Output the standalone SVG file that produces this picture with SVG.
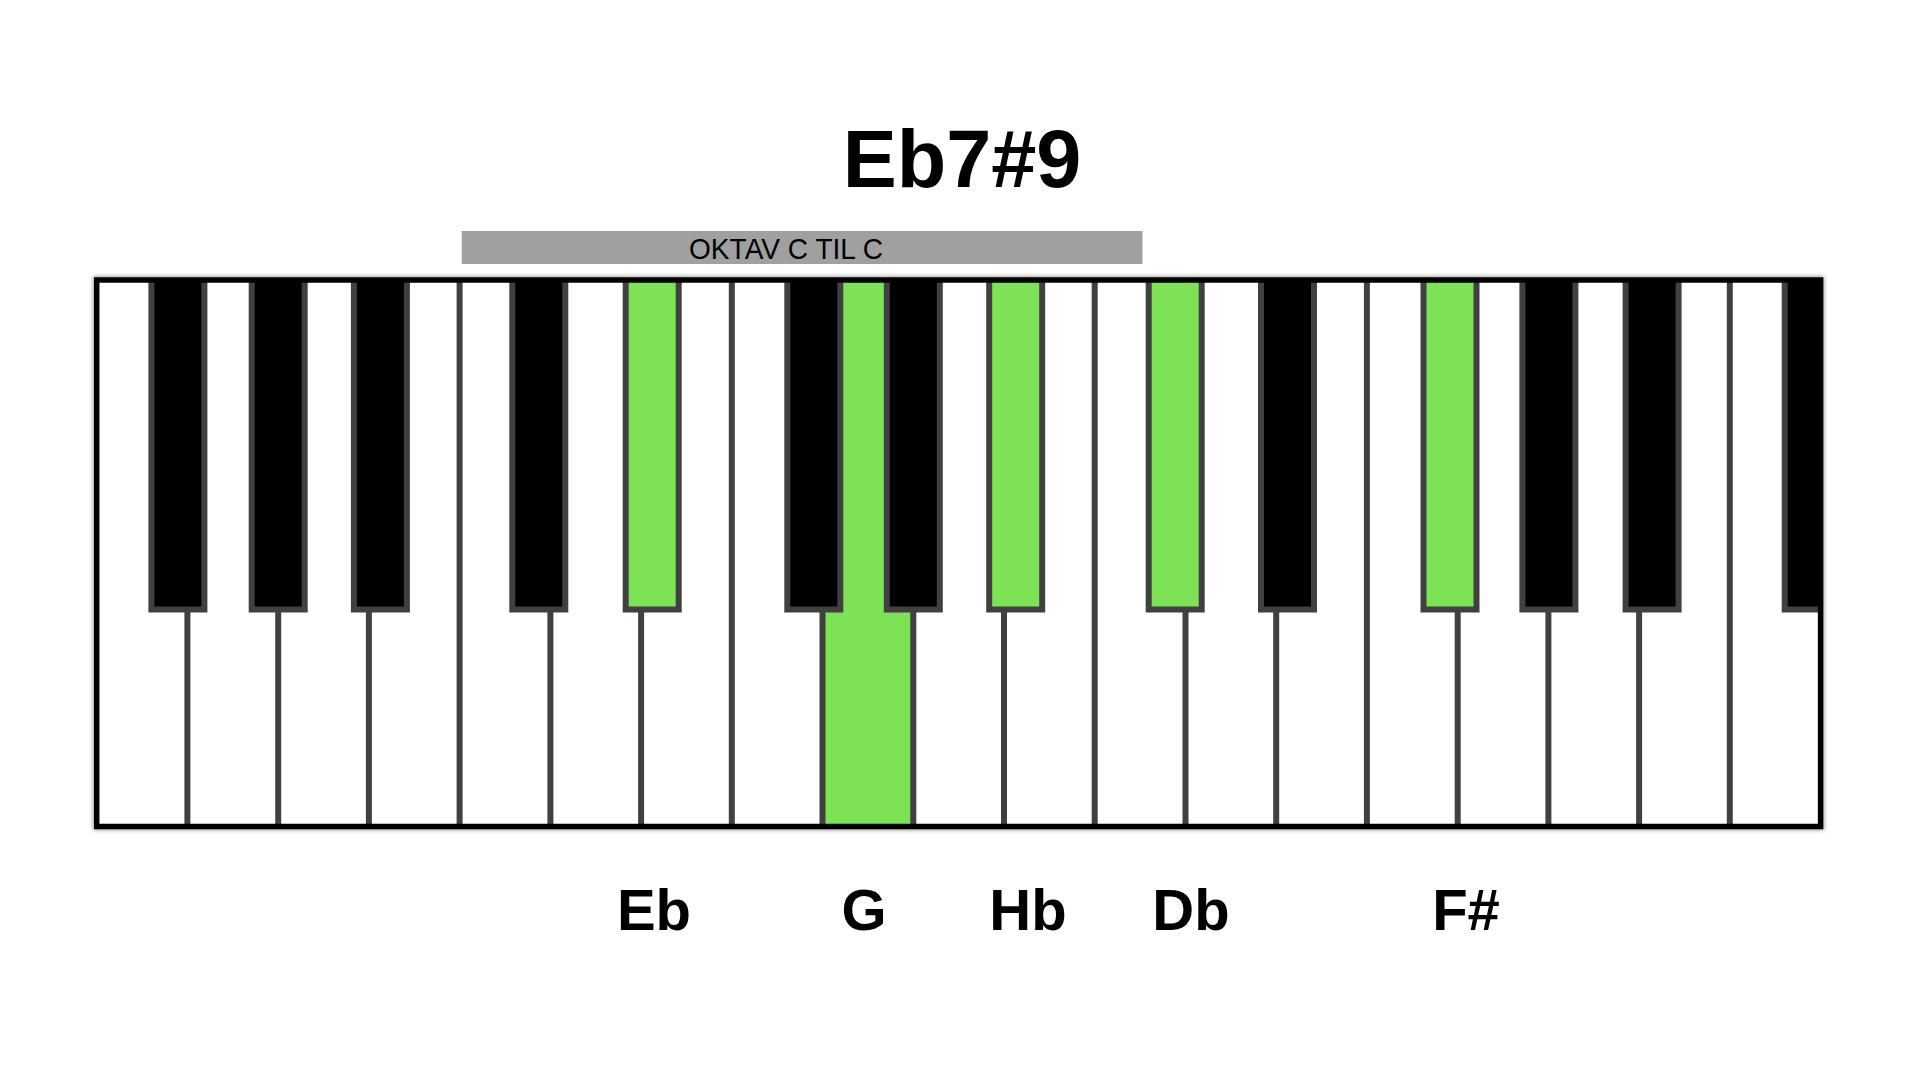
<svg xmlns="http://www.w3.org/2000/svg" width="1920" height="1080" viewBox="0 0 1920 1080">
<style>
.title{font-family:"Liberation Sans",Arial,sans-serif;font-weight:bold;font-size:81px;fill:#000}
.note{font-family:"Liberation Sans",Arial,sans-serif;font-weight:bold;font-size:58px;fill:#000}
.bartext{font-family:"Liberation Sans",Arial,sans-serif;font-size:30px;fill:#000}
.sep{stroke:#404040;stroke-width:6}
.bk{fill:#000;stroke:#404040;stroke-width:6}
.bk.on{fill:#7ee256}
.wk{fill:#fff}
.wk.on{fill:#7ee256}
</style>
<defs>
<clipPath id="kb"><rect x="96.7" y="280" width="1723.9" height="546.5"/></clipPath>
<filter id="sh" x="-5%" y="-5%" width="110%" height="110%"><feGaussianBlur stdDeviation="2"/></filter>
</defs>
<rect width="1920" height="1080" fill="#fff"/>
<text class="title" x="962" y="187" text-anchor="middle">Eb7#9</text>
<g id="octave-bar">
<rect x="461.7" y="231" width="680.8" height="33" fill="#a0a0a0"/>
<text class="bartext" x="786" y="259" text-anchor="middle" textLength="194" lengthAdjust="spacingAndGlyphs">OKTAV C TIL C</text>
</g>
<rect x="96.7" y="280" width="1723.9" height="546.5" fill="none" stroke="#999" stroke-width="7" filter="url(#sh)"/>
<g id="keyboard" clip-path="url(#kb)">
<rect class="wk" x="96.7" y="280" width="1723.9" height="546.5"/>
<rect id="key-G" class="wk on" x="822.5" y="280" width="90.8" height="546.5"/>
<g id="separators">
<line class="sep" x1="187.4" y1="280" x2="187.4" y2="827"/>
<line class="sep" x1="278.2" y1="280" x2="278.2" y2="827"/>
<line class="sep" x1="368.9" y1="280" x2="368.9" y2="827"/>
<line class="sep" x1="459.6" y1="280" x2="459.6" y2="827"/>
<line class="sep" x1="550.4" y1="280" x2="550.4" y2="827"/>
<line class="sep" x1="641.1" y1="280" x2="641.1" y2="827"/>
<line class="sep" x1="731.8" y1="280" x2="731.8" y2="827"/>
<line class="sep" x1="822.5" y1="280" x2="822.5" y2="827"/>
<line class="sep" x1="913.3" y1="280" x2="913.3" y2="827"/>
<line class="sep" x1="1004" y1="280" x2="1004" y2="827"/>
<line class="sep" x1="1094.7" y1="280" x2="1094.7" y2="827"/>
<line class="sep" x1="1185.5" y1="280" x2="1185.5" y2="827"/>
<line class="sep" x1="1276.2" y1="280" x2="1276.2" y2="827"/>
<line class="sep" x1="1366.9" y1="280" x2="1366.9" y2="827"/>
<line class="sep" x1="1457.7" y1="280" x2="1457.7" y2="827"/>
<line class="sep" x1="1548.4" y1="280" x2="1548.4" y2="827"/>
<line class="sep" x1="1639.1" y1="280" x2="1639.1" y2="827"/>
<line class="sep" x1="1729.8" y1="280" x2="1729.8" y2="827"/>
</g>
<g id="black-keys">
<rect class="bk" x="151.4" y="270" width="53" height="339.5"/>
<rect class="bk" x="251.7" y="270" width="53" height="339.5"/>
<rect class="bk" x="353.9" y="270" width="53" height="339.5"/>
<rect class="bk" x="512.3" y="270" width="53" height="339.5"/>
<rect id="key-Eb" class="bk on" x="625.7" y="270" width="53" height="339.5"/>
<rect class="bk" x="787.3" y="270" width="53" height="339.5"/>
<rect class="bk" x="886.8" y="270" width="53" height="339.5"/>
<rect id="key-Hb" class="bk on" x="989.2" y="270" width="53" height="339.5"/>
<rect id="key-Db" class="bk on" x="1148.7" y="270" width="53" height="339.5"/>
<rect class="bk" x="1261" y="270" width="53" height="339.5"/>
<rect id="key-Fsharp" class="bk on" x="1423.5" y="270" width="53" height="339.5"/>
<rect class="bk" x="1522.4" y="270" width="53" height="339.5"/>
<rect class="bk" x="1625.6" y="270" width="53" height="339.5"/>
<rect class="bk" x="1784.7" y="270" width="53" height="339.5"/>
</g>
</g>
<rect id="frame" x="96.7" y="280" width="1723.9" height="546.5" fill="none" stroke="#000" stroke-width="5.5"/>
<g id="labels">
<text class="note" x="654" y="930" text-anchor="middle">Eb</text>
<text class="note" x="864" y="930" text-anchor="middle">G</text>
<text class="note" x="1028" y="930" text-anchor="middle">Hb</text>
<text class="note" x="1191" y="930" text-anchor="middle">Db</text>
<text class="note" x="1466" y="930" text-anchor="middle">F#</text>
</g>
</svg>
